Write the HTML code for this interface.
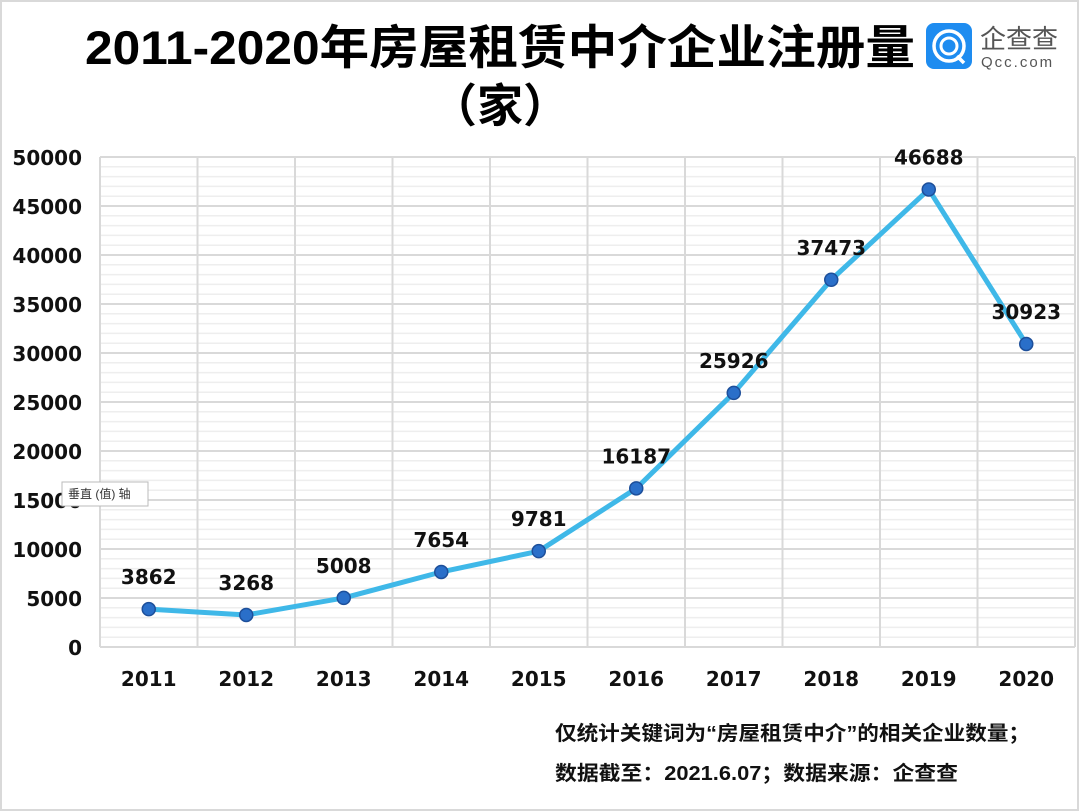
<!DOCTYPE html>
<html><head><meta charset="utf-8"><style>
body{margin:0;background:#fff;}
svg{display:block;font-family:"Liberation Sans","Noto Sans CJK SC",sans-serif;}
.num{font-family:"DejaVu Sans","Liberation Sans",sans-serif;}
</style></head><body>
<svg id="c" width="1080" height="811" xmlns="http://www.w3.org/2000/svg">
<rect x="1" y="1" width="1077" height="809" fill="#fff" stroke="#d9d9d9" stroke-width="2"/>
<text x="85" y="64" textLength="830" lengthAdjust="spacingAndGlyphs" font-size="47" font-weight="bold" fill="#000">2011-2020年房屋租赁中介企业注册量</text>
<text x="500" y="122" text-anchor="middle" font-size="46" font-weight="bold" fill="#000">（家）</text>
<g>
<rect x="926" y="23" width="46" height="46" rx="8" fill="#1e8cf0"/>
<circle cx="949" cy="46" r="15" fill="none" stroke="#fff" stroke-width="3.5"/>
<circle cx="949" cy="46" r="8" fill="none" stroke="#fff" stroke-width="3"/>
<line x1="957" y1="56" x2="964" y2="63" stroke="#fff" stroke-width="3.5"/>
<text x="980" y="48" font-size="26" fill="#555">企查查</text>
<text x="981" y="67" font-size="15" fill="#555" letter-spacing="2">Qcc.com</text>
</g>
<g id="grid"></g>
<g id="axes"></g>
<g id="series"></g>
<rect x="62" y="482" width="86" height="24" fill="#fff" stroke="#bbb"/>
<text x="68" y="498" font-size="12" fill="#333">垂直 (值) 轴</text>
<text x="555" y="740" textLength="475" lengthAdjust="spacingAndGlyphs" font-size="20" font-weight="bold" fill="#111">仅统计关键词为“房屋租赁中介”的相关企业数量；</text>
<text x="555" y="780" textLength="403" lengthAdjust="spacingAndGlyphs" font-size="20" font-weight="bold" fill="#111">数据截至：2021.6.07；数据来源：企查查</text>
</svg>
<script>
const categories=["2011","2012","2013","2014","2015","2016","2017","2018","2019","2020"];
const values=[3862,3268,5008,7654,9781,16187,25926,37473,46688,30923];
const yTicks=[0,5000,10000,15000,20000,25000,30000,35000,40000,45000,50000];
const NS="http://www.w3.org/2000/svg";
const L=100,R=1075,T=157,B=647,yMax=50000;
const bw=(R-L)/categories.length;
const x=i=>L+bw*(i+0.5);
const y=v=>B-(v/yMax)*(B-T);
function mk(t,a,p){const e=document.createElementNS(NS,t);for(const k in a)e.setAttribute(k,a[k]);p.appendChild(e);return e;}
const g=document.getElementById('grid'),ax=document.getElementById('axes'),s=document.getElementById('series');
for(let v=0;v<=yMax;v+=1000){
 const major=v%5000===0;
 const l=mk('line',{x1:L,x2:R,y1:y(v),y2:y(v),stroke:major?'#d9d9d9':'#eeeeee','stroke-width':major?2:1.5},g);
 
 
}
for(let i=0;i<=categories.length;i++){
 const l=mk('line',{x1:L+bw*i,x2:L+bw*i,y1:T,y2:B,stroke:'#d9d9d9','stroke-width':2},g);
 
 
}
yTicks.forEach(v=>{
 const t=mk('text',{x:82,y:y(v)+8,'text-anchor':'end','font-size':20,'font-weight':'bold',fill:'#111',class:'num'},ax);
 t.textContent=v;
 
 
});
categories.forEach((c,i)=>{
 const t=mk('text',{x:x(i),y:686,'text-anchor':'middle','font-size':20,'font-weight':'bold',fill:'#111',class:'num'},ax);
 t.textContent=c;
 
 
});
const pl=mk('polyline',{points:values.map((v,i)=>x(i)+','+y(v)).join(' '),fill:'none',stroke:'#3fb8e8','stroke-width':5,'stroke-linejoin':'round'},s);


values.forEach((v,i)=>{
 const c=mk('circle',{cx:x(i),cy:y(v),r:6.5,fill:'#2a6fc9',stroke:'#1d4f9a','stroke-width':1.5},s);
 
 
 const t=mk('text',{x:x(i),y:y(v)-25,'text-anchor':'middle','font-size':20,'font-weight':'bold',fill:'#111',class:'num'},s);
 t.textContent=v;
 
 
});
</script>
</body></html>
